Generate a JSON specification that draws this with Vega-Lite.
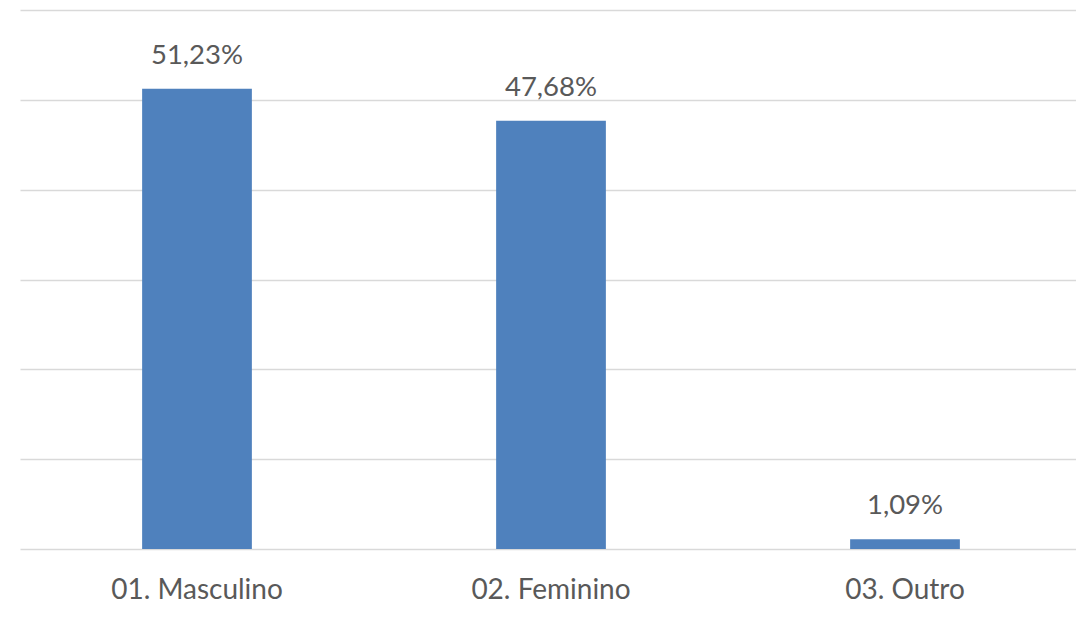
{
  "$schema": "https://vega.github.io/schema/vega-lite/v6.json",
  "autosize": {"type": "none"},
  "width": 1062,
  "height": 539,
  "padding": {"left": 20, "top": 10, "right": 0, "bottom": 73},
  "background": "white",
  "config": {
    "view": {"stroke": null},
    "locale": {"number": {"decimal": ",", "thousands": ".", "grouping": [3], "currency": ["", " €"]}},
    "font": "Lato"
  },
  "data": {
    "values": [
      {"categoria": "01. Masculino", "valor": 0.5123},
      {"categoria": "02. Feminino", "valor": 0.4768},
      {"categoria": "03. Outro", "valor": 0.0109}
    ]
  },
  "encoding": {
    "x": {
      "field": "categoria", "type": "nominal", "sort": null,
      "scale": {"paddingInner": 0.69, "paddingOuter": 0.345},
      "axis": {"title": null, "labelAngle": 0, "labelFont": "Lato", "labelFontSize": 28, "labelColor": "#595959", "labelPadding": 27, "ticks": false, "domain": false, "labelLimit": 400}
    },
    "y": {
      "field": "valor", "type": "quantitative",
      "scale": {"domain": [0, 0.6], "nice": false},
      "axis": {"title": null, "labels": false, "ticks": false, "domain": false, "values": [0, 0.1, 0.2, 0.3, 0.4, 0.5, 0.6], "gridColor": "#d9d9d9", "gridWidth": 1.5}
    }
  },
  "layer": [
    {"mark": {"type": "bar", "color": "#4F81BD"}},
    {
      "mark": {"type": "text", "baseline": "alphabetic", "dy": -25, "fontSize": 27.5, "color": "#595959", "font": "Lato"},
      "encoding": {"text": {"field": "valor", "type": "quantitative", "format": ".2%"}}
    }
  ]
}
